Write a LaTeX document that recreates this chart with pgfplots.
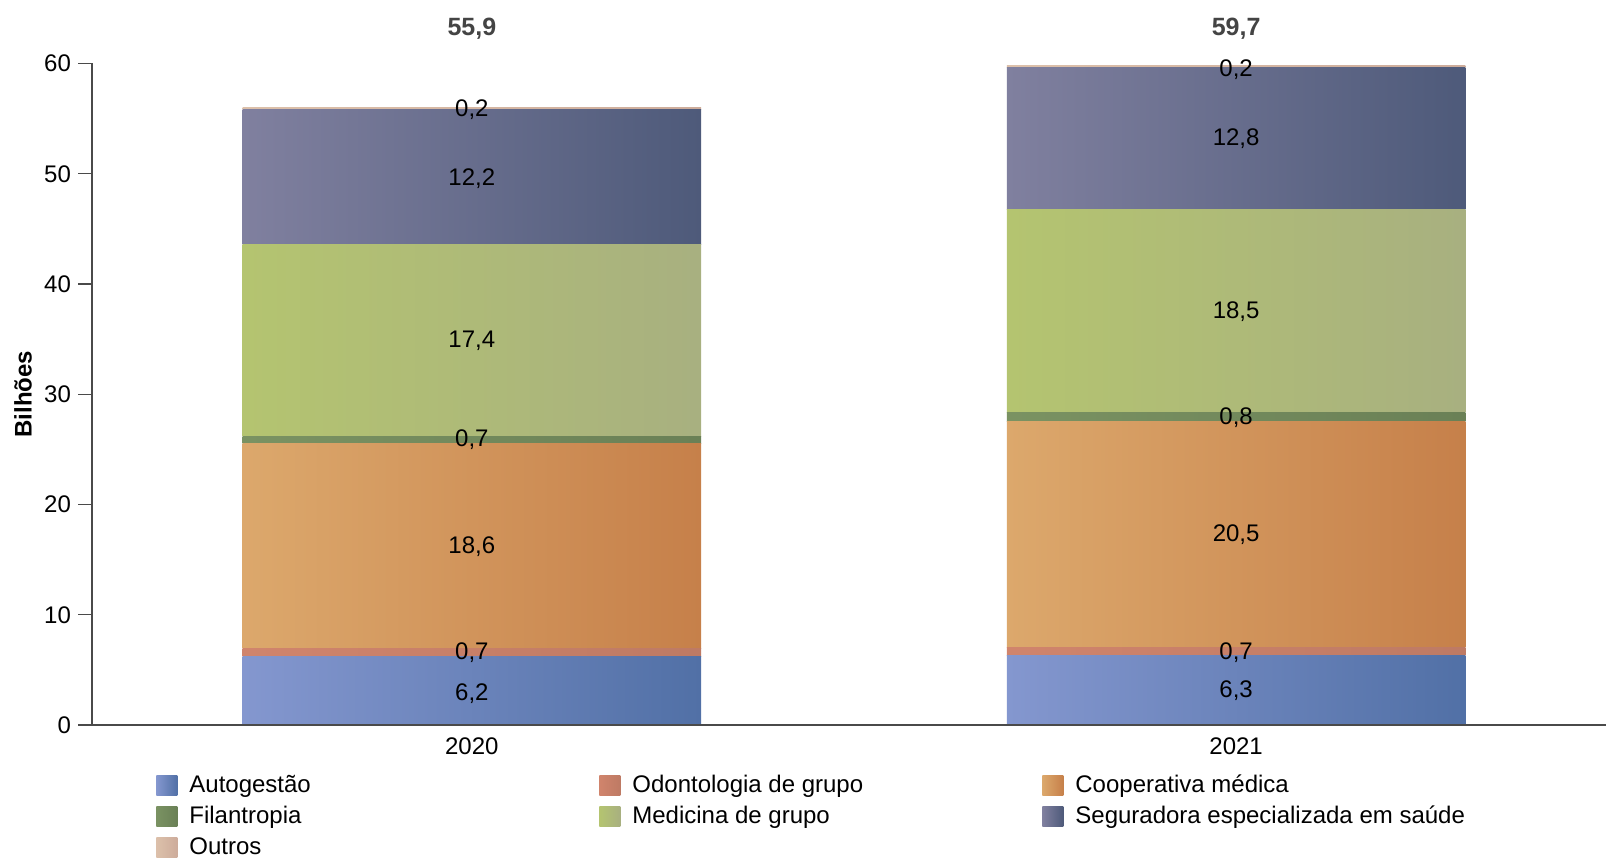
\documentclass[border=0pt]{standalone}
\usepackage{pgfplots}
\pgfplotsset{compat=1.18}
\usepackage{pgfplotstable}
\usepackage{fontspec}
\setmainfont{Liberation Sans}
\usetikzlibrary{calc}
\definecolor{autoL}{HTML}{8497CF}
\definecolor{autoR}{HTML}{5170A6}
\definecolor{odoL}{HTML}{D0846C}
\definecolor{odoR}{HTML}{BE7A64}
\definecolor{coopL}{HTML}{DCA86C}
\definecolor{coopR}{HTML}{C6804A}
\definecolor{filL}{HTML}{7A9262}
\definecolor{filR}{HTML}{6A8056}
\definecolor{medL}{HTML}{B4C470}
\definecolor{medR}{HTML}{A8B080}
\definecolor{segL}{HTML}{80809F}
\definecolor{segR}{HTML}{4E5A7A}
\definecolor{outL}{HTML}{DCC0AA}
\definecolor{outR}{HTML}{CDAC9B}
\definecolor{totgray}{HTML}{444444}
\definecolor{axgray}{HTML}{4A4A4A}

% one table per year, so that each bar carries its own gradient
\pgfplotstableread{
x auto odo coop fil med seg out
0 6.2 0.7 18.6 0.7 17.4 12.2 0.2
}\sharesA

\pgfplotstableread{
x auto odo coop fil med seg out
1 6.3 0.7 20.5 0.8 18.5 12.8 0.2
}\sharesB

\pgfplotstableread{
x y lab
0 2.8 6,2
0 6.55 0,7
0 16.2 18,6
0 25.85 0,7
0 34.85 17,4
0 49.55 12,2
0 55.8 0,2
1 3.15 6,3
1 6.6 0,7
1 17.25 20,5
1 27.85 0,8
1 37.5 18,5
1 53.2 12,8
1 59.45 0,2
}\seglabels

\pgfplotstableread{
x y lab
0 63.2 55,9
1 63.2 59,7
}\totals

\pgfplotsset{
  base/.style={
    width=757pt, height=330.75pt, scale only axis,
    xmin=-0.497, xmax=1.484, ymin=0, ymax=60,
  },
  seg/.style 2 args={left color=#1, right color=#2, draw=none,
    legend image code/.code={\path[##1,draw=none] (0pt,-5pt) rectangle (10.5pt,5pt);}},
  bars/.style={base, hide axis, ybar stacked, bar width=0.6},
}

\begin{document}
\begin{tikzpicture}[font=\fontsize{12}{14}\selectfont]
% 2020 bars
\begin{axis}[bars]
\addplot[seg={autoL}{autoR}] table[x=x,y=auto]{\sharesA};
\addplot[seg={odoL}{odoR}] table[x=x,y=odo]{\sharesA};
\addplot[seg={coopL}{coopR}] table[x=x,y=coop]{\sharesA};
\addplot[seg={filL}{filR}] table[x=x,y=fil]{\sharesA};
\addplot[seg={medL}{medR}] table[x=x,y=med]{\sharesA};
\addplot[seg={segL}{segR}] table[x=x,y=seg]{\sharesA};
\addplot[seg={outL}{outR}] table[x=x,y=out]{\sharesA};
\end{axis}
% 2021 bars
\begin{axis}[bars]
\addplot[seg={autoL}{autoR}] table[x=x,y=auto]{\sharesB};
\addplot[seg={odoL}{odoR}] table[x=x,y=odo]{\sharesB};
\addplot[seg={coopL}{coopR}] table[x=x,y=coop]{\sharesB};
\addplot[seg={filL}{filR}] table[x=x,y=fil]{\sharesB};
\addplot[seg={medL}{medR}] table[x=x,y=med]{\sharesB};
\addplot[seg={segL}{segR}] table[x=x,y=seg]{\sharesB};
\addplot[seg={outL}{outR}] table[x=x,y=out]{\sharesB};
\end{axis}
% value labels and totals
\begin{axis}[base, hide axis, clip=false]
\addplot[only marks, mark=*, mark size=0pt, mark options={draw=none,fill=none},
  nodes near coords, point meta=explicit symbolic,
  nodes near coords style={anchor=center, black, font=\fontsize{12}{14}\selectfont}]
  table[x=x,y=y,meta=lab]{\seglabels};
\addplot[only marks, mark=*, mark size=0pt, mark options={draw=none,fill=none},
  nodes near coords, point meta=explicit symbolic,
  nodes near coords style={anchor=center, totgray, font=\fontsize{12.5}{14}\selectfont\bfseries}]
  table[x=x,y=y,meta=lab]{\totals};
\end{axis}
% axis lines, ticks and legend
\begin{axis}[base, name=main,
  axis x line*=bottom, axis y line*=left,
  axis line style={axgray, line width=0.6pt},
  xtick={0,1}, xticklabels={2020,2021},
  xtick style={draw=none},
  ytick={0,10,...,60},
  tick align=outside, major tick length=7pt,
  ytick style={axgray, line width=0.6pt},
  /pgf/number format/assume math mode=true,
  ticklabel style={font=\fontsize{12}{14}\selectfont},
  xticklabel style={yshift=4pt},
  ylabel={\bfseries Bilhões},
  every axis y label/.style={at={(rel axis cs:0,0.5)}, xshift=-34.5pt, rotate=90, anchor=center},
  legend columns=3,
  legend cell align=left,
  legend style={draw=none, fill=none, at={(rel axis cs:0,0)}, anchor=north west,
    xshift=32pt, yshift=-24.75pt, inner sep=0pt, row sep=5.25pt,
    nodes={inner sep=0pt},
    /tikz/every odd column/.style={column sep=6pt},
    /tikz/every even column/.style={column sep=0pt}},
]
\addlegendimage{seg={autoL}{autoR}}
\addlegendentry{\makebox[205pt][l]{Autogestão}}
\addlegendimage{seg={odoL}{odoR}}
\addlegendentry{\makebox[205pt][l]{Odontologia de grupo}}
\addlegendimage{seg={coopL}{coopR}}
\addlegendentry{\makebox[205pt][l]{Cooperativa médica}}
\addlegendimage{seg={filL}{filR}}
\addlegendentry{\makebox[205pt][l]{Filantropia}}
\addlegendimage{seg={medL}{medR}}
\addlegendentry{\makebox[205pt][l]{Medicina de grupo}}
\addlegendimage{seg={segL}{segR}}
\addlegendentry{\makebox[205pt][l]{Seguradora especializada em saúde}}
\addlegendimage{seg={outL}{outR}}
\addlegendentry{\makebox[205pt][l]{Outros}}
\end{axis}
\pgfresetboundingbox
\useasboundingbox ($(main.south west)+(-46pt,-67pt)$) rectangle ($(main.north east)+(0pt,31.75pt)$);
\end{tikzpicture}
\end{document}
